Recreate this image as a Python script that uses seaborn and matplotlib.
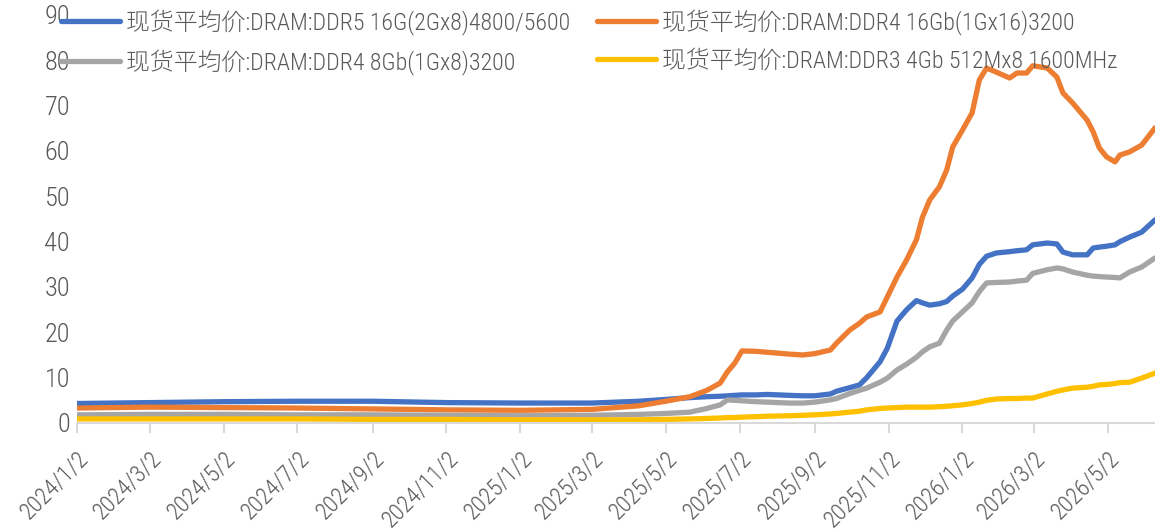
import pandas as pd
import matplotlib
matplotlib.use('Agg')
import matplotlib.pyplot as plt
from matplotlib.lines import Line2D
import seaborn as sns

# 日期
dates = [
    "2024-01-02", "2024-03-02", "2024-05-02", "2024-07-02", "2024-09-02", "2024-11-02",
    "2025-01-02", "2025-03-02", "2025-04-10", "2025-05-02", "2025-05-22", "2025-06-05",
    "2025-06-16", "2025-06-22", "2025-06-28", "2025-07-04", "2025-07-16", "2025-07-25",
    "2025-08-12", "2025-08-23", "2025-09-02", "2025-09-15", "2025-09-20", "2025-10-01",
    "2025-10-09", "2025-10-15", "2025-10-26", "2025-11-01", "2025-11-09", "2025-11-17",
    "2025-11-25", "2025-11-30", "2025-12-06", "2025-12-14", "2025-12-20", "2025-12-25",
    "2026-01-02", "2026-01-10", "2026-01-16", "2026-01-22", "2026-01-30", "2026-02-10",
    "2026-02-16", "2026-02-24", "2026-03-01", "2026-03-13", "2026-03-21", "2026-03-26",
    "2026-04-03", "2026-04-15", "2026-04-20", "2026-04-25", "2026-05-01", "2026-05-08",
    "2026-05-12", "2026-05-20", "2026-05-30", "2026-06-10",
]

ddr5_16g = [
    4.3, 4.5, 4.7, 4.8, 4.8, 4.5,
    4.4, 4.4, 4.8, 5.2, 5.6, 5.8,
    5.9, 6.0, 6.1, 6.2, 6.2, 6.3,
    6.1, 6.0, 6.0, 6.4, 7.0, 7.8,
    8.4, 10.0, 13.5, 16.5, 22.5, 25.0,
    27.0, 26.5, 26.0, 26.3, 26.8, 28.0,
    29.5, 32.0, 35.0, 36.8, 37.5, 37.8,
    38.0, 38.2, 39.3, 39.7, 39.5, 37.7,
    37.1, 37.1, 38.6, 38.8, 39.0, 39.3,
    40.0, 41.0, 42.1, 44.8,
]

ddr4_16gb = [
    3.3, 3.5, 3.4, 3.3, 3.1, 2.9,
    2.8, 3.0, 3.8, 4.8, 5.8, 7.2,
    8.8, 11.3, 13.2, 15.9, 15.8, 15.6,
    15.2, 15.0, 15.3, 16.1, 17.6, 20.5,
    22.0, 23.4, 24.5, 27.8, 32.2, 36.0,
    40.4, 45.4, 49.2, 52.1, 55.8, 60.9,
    64.6, 68.4, 75.7, 78.3, 77.4, 76.1,
    77.2, 77.2, 78.8, 78.3, 76.3, 72.8,
    70.6, 66.8, 64.2, 60.7, 58.7, 57.6,
    59.1, 59.8, 61.3, 65.1,
]

ddr4_8gb = [
    1.8, 1.9, 1.9, 1.8, 1.8, 1.7,
    1.6, 1.7, 1.9, 2.1, 2.4, 3.2,
    4.0, 5.1, 5.0, 4.9, 4.7, 4.6,
    4.4, 4.4, 4.6, 5.1, 5.4, 6.5,
    7.2, 7.7, 9.0, 9.9, 11.7, 13.0,
    14.5, 15.7, 16.8, 17.6, 20.5, 22.5,
    24.5, 26.5, 29.0, 30.9, 31.0, 31.1,
    31.3, 31.5, 33.0, 33.8, 34.2, 34.0,
    33.3, 32.6, 32.4, 32.3, 32.2, 32.1,
    32.0, 33.3, 34.4, 36.4,
]

ddr3_4gb = [
    0.9, 0.9, 0.9, 0.9, 0.8, 0.8,
    0.7, 0.7, 0.7, 0.8, 0.9, 1.0,
    1.1, 1.2, 1.2, 1.3, 1.4, 1.5,
    1.6, 1.7, 1.8, 2.0, 2.1, 2.4,
    2.6, 2.9, 3.2, 3.3, 3.4, 3.5,
    3.5, 3.5, 3.5, 3.6, 3.7, 3.8,
    4.0, 4.3, 4.6, 5.0, 5.3, 5.4,
    5.4, 5.5, 5.5, 6.4, 7.0, 7.3,
    7.7, 7.9, 8.1, 8.4, 8.5, 8.7,
    8.9, 9.0, 9.9, 11.0,
]

names = [
    "现货平均价:DRAM:DDR5 16G(2Gx8)4800/5600",
    "现货平均价:DRAM:DDR4 16Gb(1Gx16)3200",
    "现货平均价:DRAM:DDR4 8Gb(1Gx8)3200",
    "现货平均价:DRAM:DDR3 4Gb 512Mx8 1600MHz",
]
colors = ["#4472C4", "#ED7D31", "#A5A5A5", "#FFC000"]

tick_labels = ["2024/1/2", "2024/3/2", "2024/5/2", "2024/7/2", "2024/9/2", "2024/11/2",
               "2025/1/2", "2025/3/2", "2025/5/2", "2025/7/2", "2025/9/2", "2025/11/2",
               "2026/1/2", "2026/3/2", "2026/5/2"]

df = pd.DataFrame({"date": pd.to_datetime(dates)})
for n, v in zip(names, [ddr5_16g, ddr4_16gb, ddr4_8gb, ddr3_4gb]):
    df[n] = v
long = df.melt(id_vars="date", var_name="series", value_name="price")

sns.set_style("white")
plt.rcParams['font.family'] = ['Roboto Condensed', 'Noto Sans CJK JP', 'DejaVu Sans']
plt.rcParams['font.weight'] = 300
txt_color = "#595959"

fig = plt.figure(figsize=(11.55, 5.31), dpi=100)
ax = fig.add_axes([77 / 1155, 108 / 531, 1 - 77 / 1155, (423 - 15) / 531])

sns.lineplot(data=long, x="date", y="price", hue="series", hue_order=names,
             palette=colors, linewidth=3.8, ax=ax, legend=False)

ax.set_ylim(0, 90)
ax.set_yticks(range(0, 91, 10))
ax.set_xlim(pd.Timestamp("2024-01-02"), pd.Timestamp("2026-06-10"))
ax.set_xticks(pd.to_datetime([s.replace("/", "-") for s in tick_labels]))
ax.set_xticklabels(tick_labels, rotation=45, ha="right", rotation_mode="anchor")
ax.set_xlabel("")
ax.set_ylabel("")

for s in ["top", "right", "left"]:
    ax.spines[s].set_visible(False)
ax.spines["bottom"].set_color("#D9D9D9")
ax.spines["bottom"].set_linewidth(1.5)
ax.tick_params(axis="x", length=7, width=1.5, color="#D9D9D9", labelsize=17,
               labelcolor=txt_color, pad=10, direction="out", bottom=True)
ax.tick_params(axis="y", length=0, labelsize=19, labelcolor=txt_color, pad=5)

# 图例: 两列, 左列蓝/灰, 右列橙/黄
order = [0, 2, 1, 3]
handles = [Line2D([], [], color=colors[i], linewidth=3.8) for i in order]
labels = [names[i] for i in order]
fig.legend(handles, labels, loc="upper left", bbox_to_anchor=(61 / 1155, 1 - 9 / 531),
           ncol=2, frameon=False, fontsize=17.2, labelcolor=txt_color,
           handlelength=2.45, handletextpad=0.25, columnspacing=1.15, labelspacing=0.6,
           borderaxespad=0, borderpad=0)

fig.savefig("out.png", dpi=100)
